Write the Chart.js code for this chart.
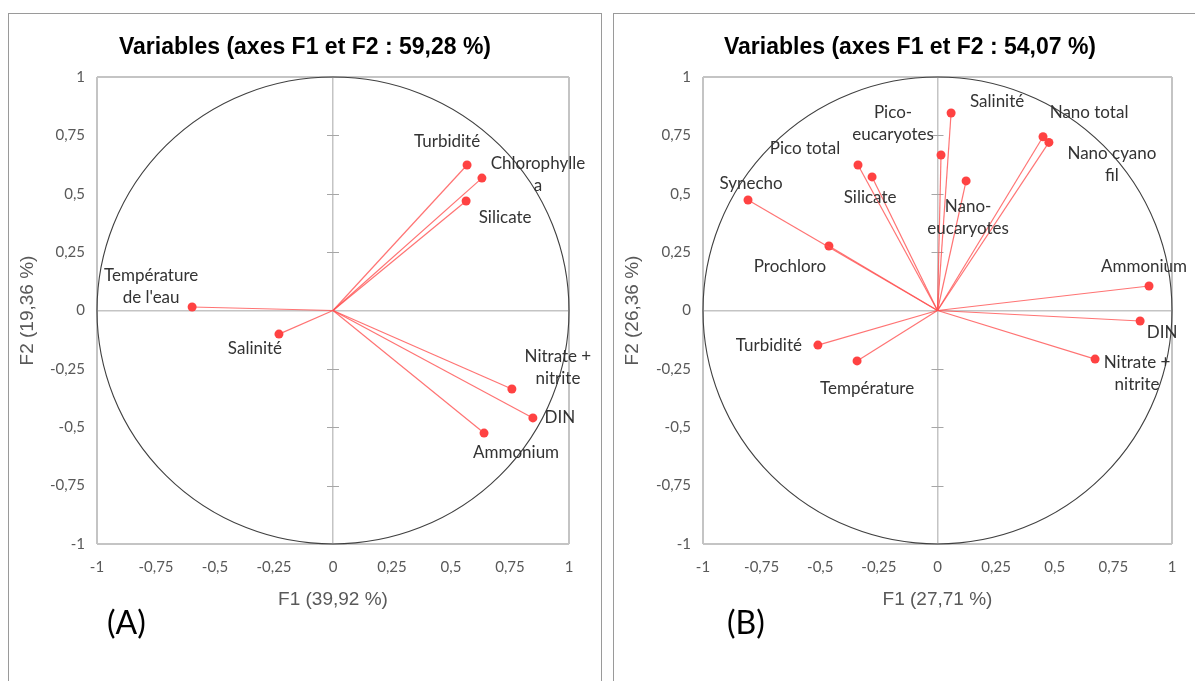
<!DOCTYPE html>
<html>
<head>
<meta charset="utf-8">
<script src="https://cdn.jsdelivr.net/npm/chart.js@4.4.1/dist/chart.umd.min.js"></script>
<style>
  body { margin: 0; background: #fff; width: 1195px; height: 681px; overflow: hidden; position: relative; }
  .cadre { position: absolute; border: 1px solid #9a9a9a; box-sizing: border-box; }
  canvas { position: absolute; }
  .lettre { position: absolute; font-family: Lato, sans-serif; font-size: 32px; line-height: 32px; color: #000; }
</style>
</head>
<body>
<div class="cadre" style="left:8px; top:13px; width:594px; height:700px;"></div>
<div class="cadre" style="left:613px; top:13px; width:600px; height:700px;"></div>
<canvas id="pcaA" width="591" height="667" style="left:9px; top:14px;"></canvas>
<canvas id="pcaB" width="581" height="667" style="left:614px; top:14px;"></canvas>
<div class="lettre" style="left:107px; top:606px;">(A)</div>
<div class="lettre" style="left:727px; top:606px;">(B)</div>
<script>
// panneau A
const variablesA = ["Turbidité", "Chlorophylle\na", "Silicate", "Température\nde l'eau", "Salinité", "Nitrate +\nnitrite", "DIN", "Ammonium"];
const f1A = [0.568, 0.631, 0.564, -0.597, -0.229, 0.758, 0.847, 0.640];
const f2A = [0.623, 0.567, 0.469, 0.015, -0.101, -0.336, -0.460, -0.525];
const titreA = "Variables (axes F1 et F2 : 59,28 %)";
const axeXA = "F1 (39,92 %)";
const axeYA = "F2 (19,36 %)";

// panneau B
const variablesB = ["Salinité", "Pico-\neucaryotes", "Nano total", "Nano cyano\nfil", "Nano-\neucaryotes", "Pico total", "Silicate", "Synecho", "Prochloro", "Ammonium", "DIN", "Nitrate +\nnitrite", "Turbidité", "Température"];
const f1B = [0.058, 0.015, 0.450, 0.475, 0.122, -0.339, -0.279, -0.808, -0.463, 0.902, 0.864, 0.672, -0.510, -0.343];
const f2B = [0.846, 0.666, 0.744, 0.720, 0.555, 0.623, 0.572, 0.473, 0.276, 0.105, -0.045, -0.208, -0.148, -0.216];
const titreB = "Variables (axes F1 et F2 : 54,07 %)";
const axeXB = "F1 (27,71 %)";
const axeYB = "F2 (26,36 %)";

const graduations = [-1, -0.75, -0.5, -0.25, 0, 0.25, 0.5, 0.75, 1];

// decalages des etiquettes en pixels (style)
const decalA = [[-20, -24], [56, -15], [39, 17], [-41, -31], [-24, 14], [46, -32], [27, 0], [32, 19]];
const decalB = [[46, -11], [-48, -42], [46, -24], [63, 11], [2, 26], [-53, -17], [-2, 21], [3, -17], [-39, 20], [-5, -19], [22, 12], [42, 3], [-49, 0], [10, 28]];

const rouge = "#ff4242";
const rougeLigne = "rgba(255, 80, 80, 0.8)";
const grisCadre = "#c4c4c4";

const cercle = {
  id: "cercle",
  beforeDatasetsDraw(chart) {
    const { ctx, scales: { x, y } } = chart;
    const cx = x.getPixelForValue(0), cy = y.getPixelForValue(0);
    const rx = x.getPixelForValue(1) - cx, ry = cy - y.getPixelForValue(1);
    ctx.save();
    // petites graduations sur l'axe vertical
    ctx.strokeStyle = "#a6a6a6";
    ctx.lineWidth = 1;
    graduations.forEach(v => {
      if (Math.abs(v) === 1 || v === 0) return;
      const py = Math.round(y.getPixelForValue(v)) + 0.5;
      ctx.beginPath();
      ctx.moveTo(cx - 6, py);
      ctx.lineTo(cx + 6, py);
      ctx.stroke();
    });
    ctx.strokeStyle = "#404040";
    ctx.lineWidth = 1.1;
    ctx.beginPath();
    ctx.ellipse(cx, cy, rx, ry, 0, 0, Math.PI * 2);
    ctx.stroke();
    ctx.restore();
  }
};

const etiquettes = {
  id: "etiquettes",
  afterDatasetsDraw(chart, args, opts) {
    const { ctx, scales: { x, y } } = chart;
    ctx.save();
    ctx.font = "17px Lato";
    ctx.fillStyle = "#333333";
    ctx.textAlign = "center";
    ctx.textBaseline = "middle";
    opts.noms.forEach((nom, i) => {
      const px = x.getPixelForValue(opts.f1[i]) + opts.decal[i][0];
      const py = y.getPixelForValue(opts.f2[i]) + opts.decal[i][1];
      nom.split("\n").forEach((ligne, k) => ctx.fillText(ligne, px, py + k * 22));
    });
    ctx.restore();
  }
};

function grille(ctx) {
  const v = ctx.tick ? ctx.tick.value : null;
  return (v === -1 || v === 0 || v === 1) ? grisCadre : "rgba(0,0,0,0)";
}
function epaisseur(ctx) {
  const v = ctx.tick ? ctx.tick.value : null;
  return v === 0 ? 1.5 : 2;
}
function virgule(val) {
  return String(val).replace(".", ",");
}

function graphique(id, noms, f1, f2, decal, titre, axeX, axeY, margeGauche, largeurY, margeDroite, decalTitreY) {
  const jeux = noms.map((nom, i) => ({
    label: nom,
    data: [{ x: 0, y: 0 }, { x: f1[i], y: f2[i] }],
    showLine: true,
    borderColor: rougeLigne,
    borderWidth: 1.2,
    pointRadius: [0, 4.5],
    pointBackgroundColor: rouge,
    pointBorderWidth: 0
  }));
  return new Chart(document.getElementById(id), {
    type: "scatter",
    data: { datasets: jeux },
    options: {
      responsive: false,
      animation: false,
      layout: { padding: { left: margeGauche, right: margeDroite, top: 0, bottom: 0 } },
      plugins: {
        legend: { display: false },
        tooltip: { enabled: false },
        title: {
          display: true,
          text: titre,
          color: "#000",
          font: { family: "Liberation Sans", size: 23, weight: "bold" },
          padding: { top: 20, bottom: 15.4 }
        },
        etiquettes: { noms: noms, f1: f1, f2: f2, decal: decal }
      },
      scales: {
        x: {
          type: "linear",
          min: -1, max: 1,
          afterFit: s => { s.height = 137; },
          ticks: { stepSize: 0.25, padding: 14, color: "#595959", font: { family: "Lato", size: 15 }, callback: virgule },
          grid: { color: grille, lineWidth: epaisseur, drawTicks: false },
          border: { display: false },
          title: { display: true, text: axeX, color: "#595959", font: { family: "Liberation Sans", size: 19 }, padding: { top: 4, bottom: 70 } }
        },
        y: {
          type: "linear",
          min: -1, max: 1,
          afterFit: s => { s.width = largeurY; },
          ticks: { stepSize: 0.25, padding: 12, color: "#595959", font: { family: "Lato", size: 15 }, callback: virgule },
          grid: { color: grille, lineWidth: epaisseur, drawTicks: false },
          border: { display: false },
          title: { display: true, text: axeY, color: "#595959", font: { family: "Liberation Sans", size: 19 }, padding: { top: decalTitreY, bottom: 0 } }
        }
      }
    },
    plugins: [cercle, etiquettes]
  });
}

graphique("pcaA", variablesA, f1A, f2A, decalA, titreA, axeXA, axeYA, 32, 56, 31, -25);
graphique("pcaB", variablesB, f1B, f2B, decalB, titreB, axeXB, axeYB, 34, 55, 23, -27);
</script>
</body>
</html>
